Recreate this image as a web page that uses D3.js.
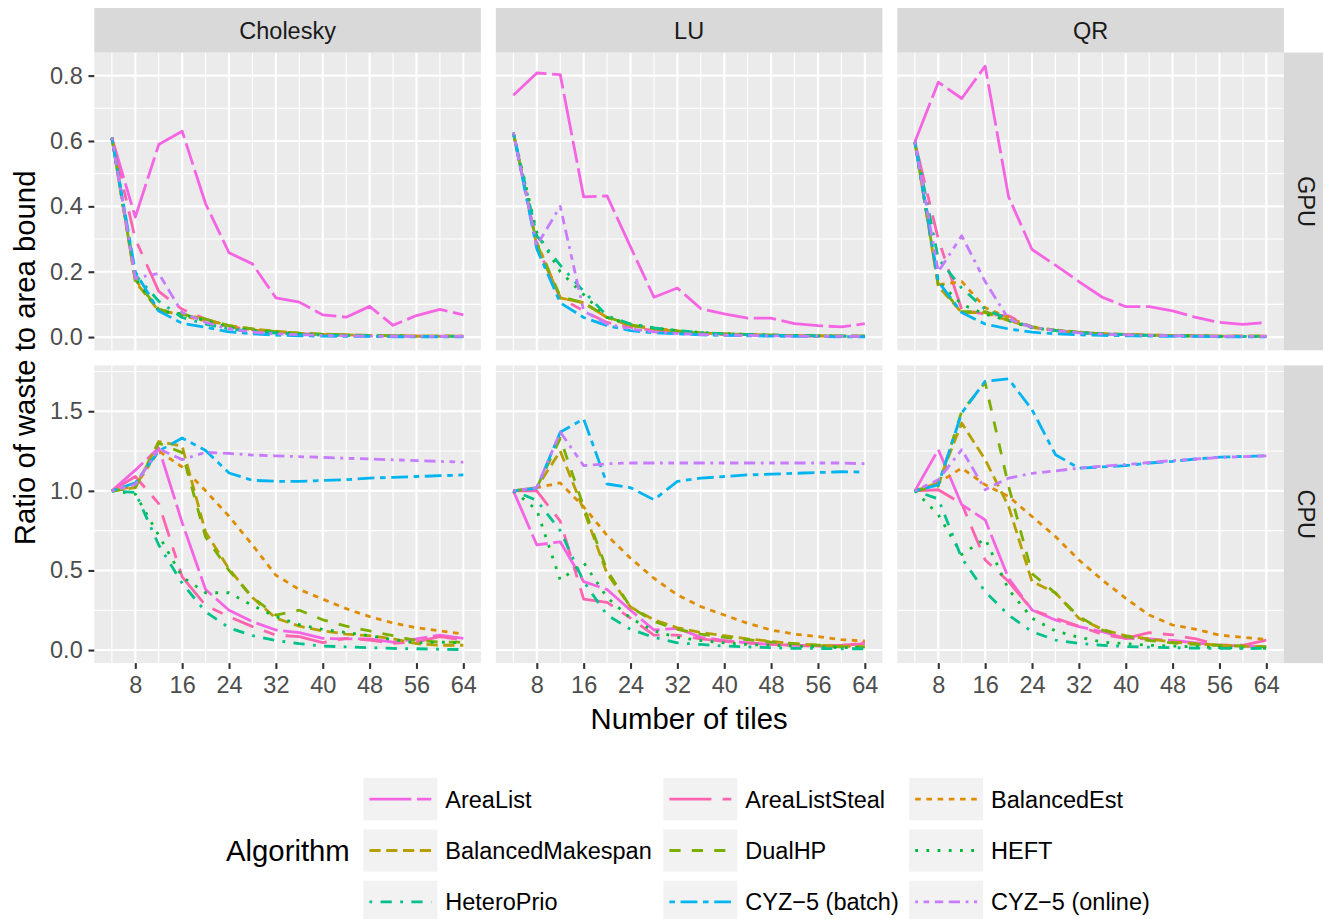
<!DOCTYPE html>
<html>
<head>
<meta charset="utf-8">
<script src="https://cdn.jsdelivr.net/npm/d3@7/dist/d3.min.js"></script>
<style>
  html, body { margin: 0; padding: 0; background: #ffffff; }
  svg text { font-family: "Liberation Sans", Arial, Helvetica, sans-serif; }
</style>
</head>
<body>
<svg id="chart" width="1323" height="919"></svg>
<script>
// ---------------- DATA ----------------
const tiles = [4, 8, 12, 16, 20, 24, 28, 32, 36, 40, 44, 48, 52, 56, 60, 64];
const facets = ["Cholesky", "LU", "QR"];
const devices = ["GPU", "CPU"];
const algorithms = ["AreaList", "AreaListSteal", "BalancedEst", "BalancedMakespan", "DualHP", "HEFT", "HeteroPrio", "CYZ\u22125 (batch)", "CYZ\u22125 (online)"];
const algoColors = ["#F564E3", "#FF64B0", "#DE8C00", "#B79F00", "#7CAE00", "#00BA38", "#00C08B", "#00B4F0", "#C77CFF"];
const algoLinetypes = ["F282", "F4448444", "22", "42", "44", "13", "1343", "2262", "12223242"];
const xTicks = [8, 16, 24, 32, 40, 48, 56, 64];
const yTicksGPU = [0, 0.2, 0.4, 0.6, 0.8];
const yTicksCPU = [0, 0.5, 1.0, 1.5];

const choleskyGPU = {
  "AreaList":         [0.61,0.367,0.589,0.63,0.408,0.258,0.224,0.12,0.107,0.068,0.061,0.094,0.036,0.066,0.085,0.068],
  "AreaListSteal":    [0.61,0.30,0.14,0.085,0.055,0.032,0.022,0.015,0.01,0.008,0.006,0.005,0.004,0.003,0.003,0.003],
  "BalancedEst":      [0.61,0.175,0.085,0.065,0.05,0.032,0.022,0.015,0.01,0.008,0.006,0.005,0.004,0.003,0.003,0.003],
  "BalancedMakespan": [0.61,0.17,0.08,0.07,0.055,0.035,0.025,0.018,0.012,0.009,0.007,0.005,0.004,0.003,0.003,0.003],
  "DualHP":           [0.61,0.175,0.085,0.07,0.055,0.035,0.025,0.017,0.012,0.009,0.007,0.005,0.004,0.003,0.003,0.003],
  "HEFT":             [0.61,0.18,0.08,0.07,0.05,0.03,0.02,0.014,0.01,0.007,0.005,0.004,0.003,0.002,0.002,0.002],
  "HeteroPrio":       [0.61,0.19,0.11,0.06,0.04,0.025,0.018,0.012,0.008,0.006,0.005,0.004,0.003,0.002,0.002,0.002],
  "CYZ\u22125 (batch)":  [0.61,0.2,0.08,0.042,0.03,0.016,0.01,0.006,0.004,0.003,0.002,0.002,0.001,0.001,0.001,0.001],
  "CYZ\u22125 (online)": [0.61,0.18,0.195,0.075,0.045,0.025,0.015,0.01,0.007,0.005,0.004,0.003,0.002,0.002,0.002,0.002]
};
const luGPU = {
  "AreaList":         [0.74,0.808,0.803,0.429,0.432,0.276,0.122,0.15,0.087,0.071,0.058,0.058,0.041,0.035,0.031,0.041],
  "AreaListSteal":    [0.625,0.28,0.12,0.08,0.045,0.03,0.02,0.015,0.01,0.008,0.006,0.005,0.004,0.003,0.003,0.003],
  "BalancedEst":      [0.625,0.29,0.12,0.105,0.06,0.037,0.027,0.019,0.013,0.01,0.008,0.006,0.005,0.004,0.003,0.003],
  "BalancedMakespan": [0.625,0.28,0.12,0.105,0.06,0.035,0.025,0.018,0.012,0.01,0.008,0.006,0.005,0.004,0.003,0.003],
  "DualHP":           [0.625,0.285,0.125,0.105,0.062,0.037,0.027,0.019,0.013,0.01,0.008,0.006,0.005,0.004,0.003,0.003],
  "HEFT":             [0.625,0.32,0.2,0.13,0.06,0.04,0.028,0.02,0.014,0.01,0.008,0.006,0.005,0.004,0.003,0.003],
  "HeteroPrio":       [0.625,0.31,0.22,0.14,0.065,0.04,0.028,0.02,0.014,0.01,0.008,0.006,0.005,0.004,0.003,0.003],
  "CYZ\u22125 (batch)":  [0.625,0.27,0.105,0.06,0.035,0.02,0.013,0.01,0.007,0.005,0.004,0.003,0.002,0.002,0.001,0.001],
  "CYZ\u22125 (online)": [0.625,0.28,0.4,0.08,0.04,0.025,0.016,0.011,0.008,0.006,0.005,0.004,0.003,0.002,0.002,0.002]
};
const qrGPU = {
  "AreaList":         [0.597,0.78,0.73,0.829,0.429,0.268,0.22,0.17,0.122,0.093,0.093,0.08,0.06,0.045,0.039,0.045],
  "AreaListSteal":    [0.597,0.3,0.085,0.07,0.065,0.03,0.02,0.014,0.01,0.008,0.006,0.005,0.004,0.003,0.003,0.003],
  "BalancedEst":      [0.597,0.16,0.17,0.09,0.06,0.03,0.022,0.015,0.01,0.008,0.006,0.005,0.004,0.003,0.003,0.003],
  "BalancedMakespan": [0.597,0.155,0.075,0.075,0.05,0.03,0.02,0.014,0.01,0.008,0.006,0.005,0.004,0.003,0.003,0.003],
  "DualHP":           [0.597,0.16,0.078,0.078,0.052,0.032,0.021,0.015,0.01,0.008,0.006,0.005,0.004,0.003,0.003,0.003],
  "HEFT":             [0.597,0.17,0.1,0.07,0.05,0.028,0.02,0.014,0.01,0.007,0.005,0.004,0.003,0.002,0.002,0.002],
  "HeteroPrio":       [0.597,0.24,0.15,0.085,0.055,0.03,0.02,0.014,0.01,0.007,0.005,0.004,0.003,0.002,0.002,0.002],
  "CYZ\u22125 (batch)":  [0.597,0.17,0.075,0.04,0.025,0.015,0.01,0.007,0.005,0.004,0.003,0.002,0.002,0.001,0.001,0.001],
  "CYZ\u22125 (online)": [0.597,0.2,0.31,0.17,0.055,0.03,0.02,0.013,0.009,0.007,0.005,0.004,0.003,0.002,0.002,0.002]
};
const choleskyCPU = {
  "AreaList":         [1.0,1.13,1.27,0.8,0.38,0.25,0.178,0.126,0.11,0.073,0.07,0.07,0.05,0.07,0.094,0.073],
  "AreaListSteal":    [1.0,1.09,0.92,0.46,0.28,0.21,0.147,0.094,0.084,0.046,0.073,0.063,0.042,0.052,0.084,0.063],
  "BalancedEst":      [1.0,1.03,1.25,1.15,1.0,0.84,0.66,0.47,0.38,0.32,0.26,0.21,0.17,0.14,0.12,0.1],
  "BalancedMakespan": [1.0,1.02,1.31,1.28,0.74,0.51,0.33,0.2,0.15,0.12,0.1,0.09,0.07,0.04,0.03,0.03],
  "DualHP":           [1.0,1.02,1.3,1.24,0.71,0.5,0.33,0.22,0.25,0.19,0.15,0.12,0.09,0.06,0.05,0.05],
  "HEFT":             [1.0,0.98,0.72,0.46,0.36,0.36,0.28,0.21,0.16,0.13,0.11,0.09,0.065,0.045,0.05,0.045],
  "HeteroPrio":       [1.0,0.99,0.66,0.42,0.24,0.14,0.09,0.06,0.04,0.025,0.02,0.015,0.01,0.008,0.005,0.003],
  "CYZ\u22125 (batch)":  [1.0,1.05,1.25,1.332,1.254,1.112,1.066,1.06,1.06,1.065,1.07,1.08,1.085,1.09,1.095,1.1],
  "CYZ\u22125 (online)": [1.0,1.04,1.263,1.196,1.242,1.235,1.225,1.22,1.215,1.21,1.205,1.2,1.195,1.19,1.185,1.18]
};
const luCPU = {
  "AreaList":         [1.0,0.66,0.68,0.43,0.38,0.25,0.126,0.136,0.08,0.06,0.045,0.035,0.03,0.025,0.02,0.05],
  "AreaListSteal":    [1.0,1.0,0.81,0.32,0.3,0.2,0.094,0.094,0.07,0.055,0.045,0.035,0.03,0.025,0.03,0.04],
  "BalancedEst":      [1.0,1.02,1.05,0.9,0.72,0.577,0.451,0.346,0.273,0.22,0.168,0.126,0.1,0.084,0.065,0.057],
  "BalancedMakespan": [1.0,1.02,1.25,0.88,0.48,0.27,0.19,0.14,0.11,0.09,0.07,0.055,0.04,0.03,0.025,0.02],
  "DualHP":           [1.0,1.02,1.33,0.9,0.5,0.27,0.18,0.13,0.1,0.08,0.065,0.05,0.04,0.03,0.02,0.02],
  "HEFT":             [1.0,0.88,0.44,0.55,0.33,0.2,0.12,0.08,0.06,0.045,0.035,0.03,0.025,0.02,0.015,0.015],
  "HeteroPrio":       [1.0,0.94,0.75,0.43,0.22,0.13,0.08,0.045,0.035,0.025,0.02,0.015,0.01,0.01,0.008,0.008],
  "CYZ\u22125 (batch)":  [1.0,1.017,1.368,1.452,1.043,1.02,0.944,1.059,1.08,1.09,1.1,1.105,1.11,1.115,1.12,1.118],
  "CYZ\u22125 (online)": [1.0,1.02,1.37,1.158,1.17,1.175,1.175,1.175,1.175,1.175,1.175,1.175,1.175,1.175,1.175,1.17]
};
const qrCPU = {
  "AreaList":         [1.0,1.259,0.913,0.818,0.451,0.252,0.189,0.147,0.115,0.073,0.07,0.06,0.045,0.03,0.025,0.02],
  "AreaListSteal":    [1.0,1.007,0.92,0.566,0.43,0.252,0.2,0.15,0.099,0.073,0.109,0.095,0.07,0.03,0.03,0.063],
  "BalancedEst":      [1.0,1.05,1.143,1.038,0.965,0.839,0.713,0.566,0.44,0.325,0.22,0.157,0.13,0.094,0.08,0.067],
  "BalancedMakespan": [1.0,1.05,1.426,1.196,0.902,0.43,0.36,0.2,0.13,0.09,0.07,0.05,0.04,0.03,0.025,0.02],
  "DualHP":           [1.0,1.03,1.5,1.68,1.03,0.48,0.357,0.21,0.126,0.084,0.06,0.045,0.035,0.03,0.025,0.02],
  "HEFT":             [1.0,0.85,0.6,0.7,0.38,0.2,0.12,0.08,0.05,0.04,0.03,0.025,0.02,0.015,0.012,0.01],
  "HeteroPrio":       [1.0,0.95,0.577,0.367,0.22,0.115,0.063,0.042,0.03,0.022,0.018,0.015,0.012,0.01,0.01,0.01],
  "CYZ\u22125 (batch)":  [1.0,1.038,1.489,1.689,1.703,1.51,1.227,1.143,1.15,1.158,1.175,1.185,1.2,1.212,1.216,1.22],
  "CYZ\u22125 (online)": [1.0,1.07,1.259,1.007,1.08,1.11,1.125,1.143,1.155,1.165,1.178,1.19,1.2,1.21,1.215,1.22]
};
const panelData = {
  GPU: [choleskyGPU, luGPU, qrGPU],
  CPU: [choleskyCPU, luCPU, qrCPU]
};
const yTicksByDevice = { GPU: yTicksGPU, CPU: yTicksCPU };

// ---------------- LAYOUT ----------------
const svg = d3.select("#chart");
const FONT_BIG = 29.3, FONT_SMALL = 23.5;
const colX = [94.3, 495.8, 897.3], pw = 386.6;
const rowY = [52.6, 365.4], ph = 297.7;
const stripH = 44.6;
const lineW = 2.8, dashUnit = 2.8;

svg.append("rect").attr("width", 1323).attr("height", 919).attr("fill", "#ffffff");

function dashArray(lt) {
  if (lt === "solid") return null;
  return lt.split("").map(c => parseInt(c, 16) * dashUnit).join(",");
}

const xExt = d3.extent(tiles);
const xPad = (xExt[1] - xExt[0]) * 0.05;
const xDomain = [xExt[0] - xPad, xExt[1] + xPad];

function minorBreaks(majors, domain) {
  const step = majors[1] - majors[0];
  const out = [];
  for (let i = -1; i < majors.length; i++) {
    const m = majors[0] + step * (i + 0.5);
    if (m >= domain[0] && m <= domain[1]) out.push(m);
  }
  return out;
}

const defs = svg.append("defs");

devices.forEach((dev, r) => {
  let all = [];
  panelData[dev].forEach(p => algorithms.forEach(a => { all = all.concat(p[a]); }));
  const yExt = d3.extent(all);
  const yPad = (yExt[1] - yExt[0]) * 0.05;
  const yDomain = [yExt[0] - yPad, yExt[1] + yPad];
  const y0 = rowY[r];
  const yScale = d3.scaleLinear().domain(yDomain).range([y0 + ph, y0]);
  const yTicks = yTicksByDevice[dev];
  const yMinor = minorBreaks(yTicks, yDomain);

  facets.forEach((fac, c) => {
    const x0 = colX[c];
    const xScale = d3.scaleLinear().domain(xDomain).range([x0, x0 + pw]);
    const xMinor = minorBreaks(xTicks, xDomain);
    const g = svg.append("g");

    g.append("rect").attr("x", x0).attr("y", y0).attr("width", pw).attr("height", ph).attr("fill", "#EBEBEB");
    g.selectAll(".ymin").data(yMinor).enter().append("line")
      .attr("x1", x0).attr("x2", x0 + pw).attr("y1", d => yScale(d)).attr("y2", d => yScale(d))
      .attr("stroke", "#ffffff").attr("stroke-width", 1.1);
    g.selectAll(".xmin").data(xMinor).enter().append("line")
      .attr("y1", y0).attr("y2", y0 + ph).attr("x1", d => xScale(d)).attr("x2", d => xScale(d))
      .attr("stroke", "#ffffff").attr("stroke-width", 1.1);
    g.selectAll(".ymaj").data(yTicks).enter().append("line")
      .attr("x1", x0).attr("x2", x0 + pw).attr("y1", d => yScale(d)).attr("y2", d => yScale(d))
      .attr("stroke", "#ffffff").attr("stroke-width", 2.1);
    g.selectAll(".xmaj").data(xTicks).enter().append("line")
      .attr("y1", y0).attr("y2", y0 + ph).attr("x1", d => xScale(d)).attr("x2", d => xScale(d))
      .attr("stroke", "#ffffff").attr("stroke-width", 2.1);

    const cid = "clip-" + r + "-" + c;
    defs.append("clipPath").attr("id", cid).append("rect")
      .attr("x", x0).attr("y", y0).attr("width", pw).attr("height", ph);

    const line = d3.line().x((d, i) => xScale(tiles[i])).y(d => yScale(d));
    const lg = g.append("g").attr("clip-path", "url(#" + cid + ")");
    algorithms.forEach((a, k) => {
      const p = lg.append("path")
        .attr("d", line(panelData[dev][c][a]))
        .attr("fill", "none")
        .attr("stroke", algoColors[k])
        .attr("stroke-width", lineW)
        .attr("stroke-linejoin", "round")
        .attr("stroke-linecap", "butt");
      const da = dashArray(algoLinetypes[k]);
      if (da) p.attr("stroke-dasharray", da);
    });

    if (r === 0) {
      svg.append("rect").attr("x", x0).attr("y", y0 - stripH).attr("width", pw).attr("height", stripH).attr("fill", "#D9D9D9");
      svg.append("text").attr("x", x0 + pw / 2).attr("y", y0 - stripH / 2 + 8.4)
        .attr("text-anchor", "middle").attr("font-size", FONT_SMALL).attr("fill", "#1A1A1A").text(fac);
    }
    if (r === devices.length - 1) {
      const ax = d3.axisBottom(xScale).tickValues(xTicks).tickSize(5.8).tickPadding(7.6).tickFormat(d3.format("d"));
      const axg = svg.append("g").attr("transform", "translate(0," + (y0 + ph) + ")").call(ax);
      axg.select(".domain").remove();
      axg.selectAll(".tick line").attr("stroke", "#333333").attr("stroke-width", 2.1);
      axg.selectAll(".tick text").attr("font-size", FONT_SMALL).attr("fill", "#4D4D4D")
        .attr("font-family", "\"Liberation Sans\", Arial, Helvetica, sans-serif");
    }
    if (c === 0) {
      const ay = d3.axisLeft(yScale).tickValues(yTicks).tickSize(5.8).tickPadding(5.8).tickFormat(d3.format(".1f"));
      const ayg = svg.append("g").attr("transform", "translate(" + x0 + ",0)").call(ay);
      ayg.select(".domain").remove();
      ayg.selectAll(".tick line").attr("stroke", "#333333").attr("stroke-width", 2.1);
      ayg.selectAll(".tick text").attr("font-size", FONT_SMALL).attr("fill", "#4D4D4D")
        .attr("font-family", "\"Liberation Sans\", Arial, Helvetica, sans-serif");
    }
  });

  const sx = colX[2] + pw;
  svg.append("rect").attr("x", sx).attr("y", y0).attr("width", stripH).attr("height", ph).attr("fill", "#D9D9D9");
  svg.append("text").attr("transform", "translate(" + (sx + stripH / 2) + "," + (y0 + ph / 2) + ") rotate(90)")
    .attr("x", 0).attr("y", 8.4).attr("text-anchor", "middle").attr("font-size", FONT_SMALL).attr("fill", "#1A1A1A").text(dev);
});

svg.append("text").attr("x", (colX[0] + colX[2] + pw) / 2).attr("y", 728.5)
  .attr("text-anchor", "middle").attr("font-size", FONT_BIG).attr("fill", "#000000").text("Number of tiles");
svg.append("text").attr("transform", "translate(35," + (rowY[0] + (rowY[1] + ph - rowY[0]) / 2) + ") rotate(-90)")
  .attr("text-anchor", "middle").attr("font-size", FONT_BIG).attr("fill", "#000000").text("Ratio of waste to area bound");

// ---------------- LEGEND ----------------
const legColsX = [363.4, 663.4, 909.2];
const legRowsY = [799.1, 850.5, 901.9];
const keyW = 73.9, keyH = 42.4;
svg.append("text").attr("x", 226).attr("y", legRowsY[1] + 10.5).attr("font-size", FONT_BIG).attr("fill", "#000000").text("Algorithm");
algorithms.forEach((a, k) => {
  const col = k % 3, row = Math.floor(k / 3);
  const kx = legColsX[col], cy = legRowsY[row];
  svg.append("rect").attr("x", kx).attr("y", cy - keyH / 2).attr("width", keyW).attr("height", keyH).attr("fill", "#F2F2F2");
  const l = svg.append("line").attr("x1", kx + 6).attr("x2", kx + keyW - 6).attr("y1", cy).attr("y2", cy)
    .attr("stroke", algoColors[k]).attr("stroke-width", lineW).attr("stroke-linecap", "butt");
  const da = dashArray(algoLinetypes[k]);
  if (da) l.attr("stroke-dasharray", da);
  svg.append("text").attr("x", kx + keyW + 8).attr("y", cy + 8.4).attr("font-size", FONT_SMALL).attr("fill", "#000000").text(a);
});
</script>
</body>
</html>
